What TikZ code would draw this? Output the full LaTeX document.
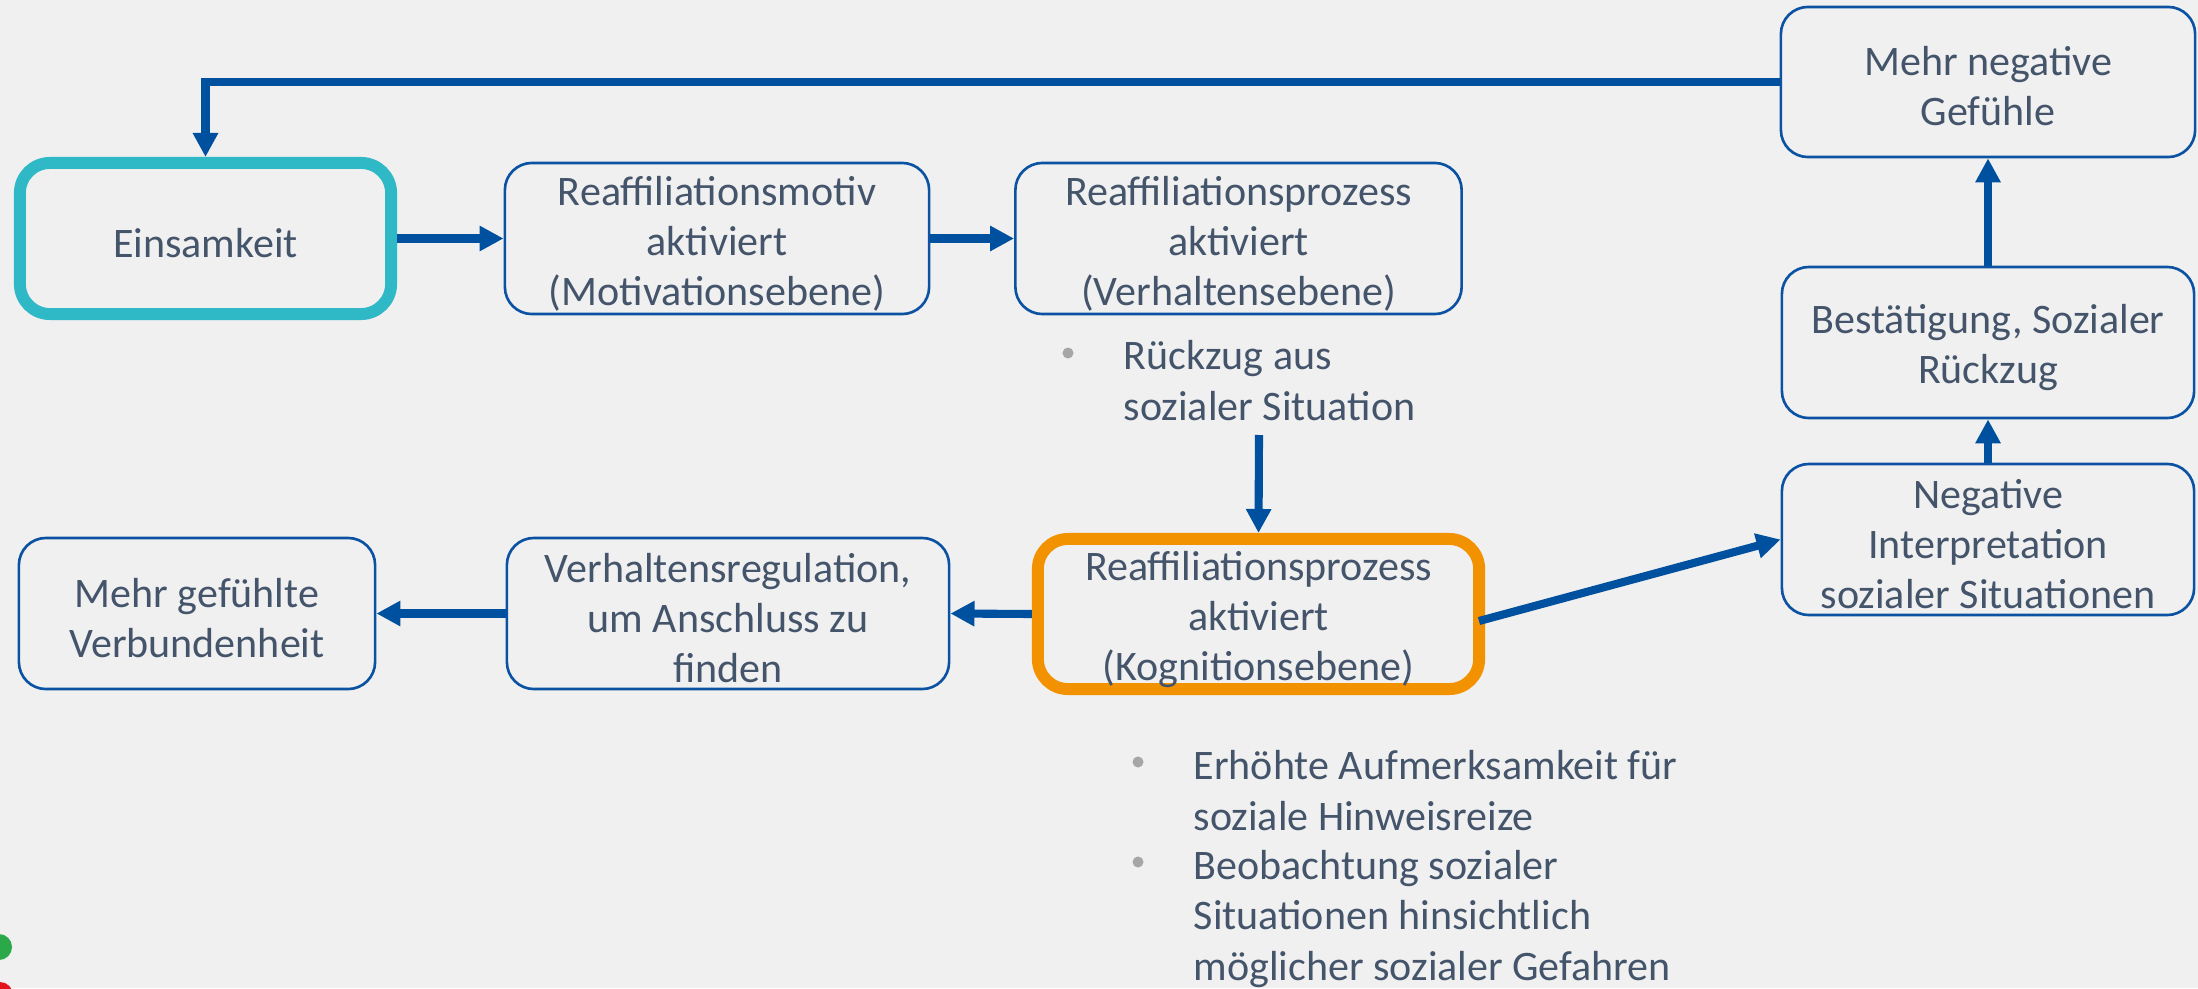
\documentclass[tikz,border=0pt]{standalone}
\usepackage{fontspec}
\setmainfont{Carlito}
\usetikzlibrary{arrows.meta}
\definecolor{bgc}{HTML}{F0F0F0}
\definecolor{txtc}{HTML}{44546A}
\definecolor{boxc}{HTML}{0B52A3}
\definecolor{arrc}{HTML}{0050A0}
\definecolor{tealc}{HTML}{2FB8C6}
\definecolor{orngc}{HTML}{F39200}
\definecolor{bulc}{HTML}{A6A6A6}
\definecolor{greenc}{HTML}{2BA84A}
\definecolor{redc}{HTML}{E3141E}
\begin{document}
\begin{tikzpicture}[x=0.01cm,y=-0.01cm,
  txt/.style={text=txtc, font=\fontsize{11.95pt}{14.23pt}\selectfont},
  box/.style={draw=boxc, line width=0.75pt, rounded corners=0.27cm,
    inner sep=0pt, minimum height=1.51cm},
  hibox/.style={box, line width=3.4pt, rounded corners=0.3cm},
  boxtext/.style={txt, align=center, inner sep=0pt},
  conn/.style={draw=arrc, line width=2.3pt,
    -{Triangle[length=0.24cm,width=0.24cm]}},
  bullettext/.style={txt, align=left, inner sep=0pt, anchor=base west}]
\fill[bgc] (0,0) rectangle (2198,988);
\useasboundingbox (0,0) rectangle (2198,988);

% boxes
\node[hibox, draw=tealc, minimum width=3.71cm] (eins) at (205.5,238.5) {};
\node[box, minimum width=4.24cm] (motiv) at (717,238.5) {};
\node[box, minimum width=4.46cm] (verh) at (1238.5,238.5) {};
\node[box, minimum width=4.14cm, minimum height=1.50cm] (mng) at (1988,82) {};
\node[box, minimum width=4.12cm] (best) at (1988,342.5) {};
\node[box, minimum width=4.12cm] (negint) at (1988,539.5) {};
\node[hibox, draw=orngc, minimum width=4.41cm, minimum height=1.50cm] (kog) at (1258.5,614) {};
\node[box, minimum width=4.42cm] (vr) at (728,613.5) {};
\node[box, minimum width=3.56cm] (mgv) at (197,613.5) {};

% box texts
\node[boxtext] (eins-t) at ([yshift=-0.05cm]eins.center) {Einsamkeit};
\node[boxtext] (motiv-t) at ([yshift=-0.05cm]motiv.center) {Reaffiliationsmotiv\\aktiviert\\(Motivationsebene)};
\node[boxtext] (verh-t) at ([yshift=-0.05cm]verh.center) {Reaffiliationsprozess\\aktiviert\\(Verhaltensebene)};
\node[boxtext] (mng-t) at ([yshift=-0.04cm]mng.center) {Mehr negative\\Gefühle};
\node[boxtext] (best-t) at ([yshift=-0.05cm]best.center) {Bestätigung, Sozialer\\Rückzug};
\node[boxtext] (negint-t) at ([yshift=-0.045cm]negint.center) {Negative\\Interpretation\\sozialer Situationen};
\node[boxtext] (kog-t) at ([yshift=-0.055cm]kog.center) {Reaffiliationsprozess\\aktiviert\\(Kognitionsebene)};
\node[boxtext] (vr-t) at ([yshift=-0.045cm]vr.center) {Verhaltensregulation,\\um Anschluss zu\\finden};
\node[boxtext] (mgv-t) at ([yshift=-0.045cm]mgv.center) {Mehr gefühlte\\Verbundenheit};

% bullet lists (anchored at the baseline of the last line)
\fill[bulc] (1068,353) circle[radius=0.055cm];
\node[bullettext] (b1) at (1123,420) {Rückzug aus\\sozialer Situation};
\fill[bulc] (1138,762) circle[radius=0.055cm];
\node[bullettext] (b2) at (1193,830) {Erhöhte Aufmerksamkeit für\\soziale Hinweisreize};
\fill[bulc] (1138,862) circle[radius=0.055cm];
\node[bullettext] (b3) at (1193,980) {Beobachtung sozialer\\Situationen hinsichtlich\\möglicher sozialer Gefahren};

% connectors
\draw[conn] (eins.east) -- (motiv.west);
\draw[conn] (motiv.east) -- (verh.west);
\draw[conn] (mng.west) -| (eins.north);
\coordinate (b1out) at (1259,435);
\draw[conn] (b1out) -- (kog.north);
\draw[conn] (kog.west) -- (vr.east);
\draw[conn] (vr.west) -- (mgv.east);
\coordinate (kogout) at (1479,621);
\draw[conn] (kogout) -- (negint.west);
\draw[conn] (negint.north) -- (best.south);
\draw[conn] (best.north) -- (mng.south);

% corner dots
\fill[greenc] (-1,947) circle[radius=0.13cm];
\fill[redc] (0,995) circle[radius=0.13cm];
\end{tikzpicture}
\end{document}
